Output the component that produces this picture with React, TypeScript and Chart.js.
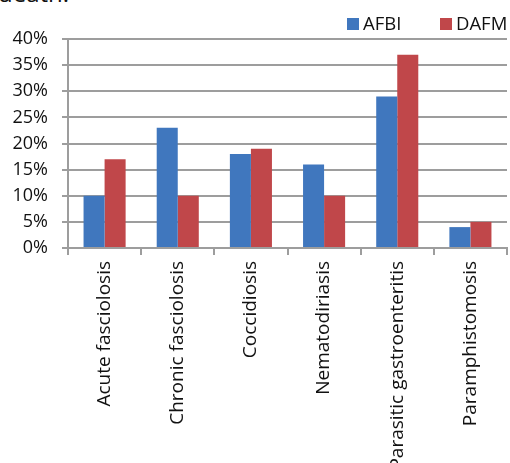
import React, { useEffect, useRef } from "react";
import { Chart, registerables } from "chart.js";

Chart.register(...registerables);

const categories = [
  "Acute fasciolosis",
  "Chronic fasciolosis",
  "Coccidiosis",
  "Nematodiriasis",
  "Parasitic gastroenteritis",
  "Paramphistomosis",
];
const seriesNames = ["AFBI", "DAFM"];
const afbiValues = [10, 23, 18, 16, 29, 4];
const dafmValues = [17, 10, 19, 10, 37, 5];
const yTickLabels = ["0%", "5%", "10%", "15%", "20%", "25%", "30%", "35%", "40%"];
const captionFragment = "death.";

const FONT = '"Open Sans", "DejaVu Sans", sans-serif';
const BLUE = "#4077be";
const RED = "#c0474a";
const GRID = "#9d9d9d";

const legendPlugin = {
  id: "manualLegend",
  afterDraw(chart: any) {
    const ctx = chart.ctx;
    const pos = [
      { box: 347, text: 363 },
      { box: 440, text: 456 },
    ];
    ctx.save();
    ctx.font = `18.5px ${FONT}`;
    ctx.textBaseline = "alphabetic";
    ctx.textAlign = "left";
    chart.data.datasets.forEach((ds: any, i: number) => {
      const p = pos[i];
      if (!p) return;
      ctx.fillStyle = ds.backgroundColor;
      ctx.fillRect(p.box, 18, 12, 12);
      ctx.fillStyle = "#111";
      ctx.fillText(ds.label, p.text, 30);
    });
    ctx.restore();
  },
};

export default function App() {
  const ref = useRef<HTMLCanvasElement | null>(null);

  useEffect(() => {
    if (!ref.current) return;
    const chart = new Chart(ref.current, {
      type: "bar",
      data: {
        labels: categories,
        datasets: [
          {
            label: seriesNames[0],
            data: afbiValues,
            backgroundColor: BLUE,
            categoryPercentage: 0.575,
            barPercentage: 1,
          },
          {
            label: seriesNames[1],
            data: dafmValues,
            backgroundColor: RED,
            categoryPercentage: 0.575,
            barPercentage: 1,
          },
        ],
      },
      options: {
        responsive: false,
        animation: false,
        layout: { padding: { top: 39, right: 3, left: 0, bottom: 0 } },
        plugins: {
          legend: { display: false },
          tooltip: { enabled: false },
        },
        scales: {
          x: {
            grid: {
              display: true,
              drawOnChartArea: false,
              drawTicks: true,
              tickLength: 7,
              color: GRID,
              lineWidth: 2,
            },
            border: { display: true, color: GRID, width: 2 },
            ticks: {
              autoSkip: false,
              maxRotation: 90,
              minRotation: 90,
              padding: 6,
              color: "#111",
              font: { family: FONT, size: 19 },
            },
            afterFit: (scale: any) => {
              scale.height = 215;
            },
          },
          y: {
            min: 0,
            max: 40,
            grid: {
              color: GRID,
              lineWidth: 2,
              drawTicks: true,
              tickLength: 6,
            },
            border: { display: true, color: GRID, width: 2 },
            ticks: {
              stepSize: 5,
              padding: 14,
              color: "#111",
              font: { family: FONT, size: 18 },
              callback: (_v: any, i: number) => yTickLabels[i],
            },
            afterFit: (scale: any) => {
              scale.width = 68;
            },
          },
        },
      },
      plugins: [legendPlugin],
    });
    return () => chart.destroy();
  }, []);

  return (
    <div
      style={{
        position: "absolute",
        left: 0,
        top: 0,
        width: 510,
        height: 463,
        overflow: "hidden",
        background: "#fff",
      }}
    >
      <div
        style={{
          position: "absolute",
          left: -2,
          top: -19,
          fontFamily: FONT,
          fontSize: 24,
          lineHeight: "24px",
          color: "#111",
          whiteSpace: "nowrap",
        }}
      >
        {captionFragment}
      </div>
      <canvas
        ref={ref}
        width={510}
        height={463}
        style={{ position: "absolute", left: 0, top: 0, width: 510, height: 463 }}
      />
    </div>
  );
}
